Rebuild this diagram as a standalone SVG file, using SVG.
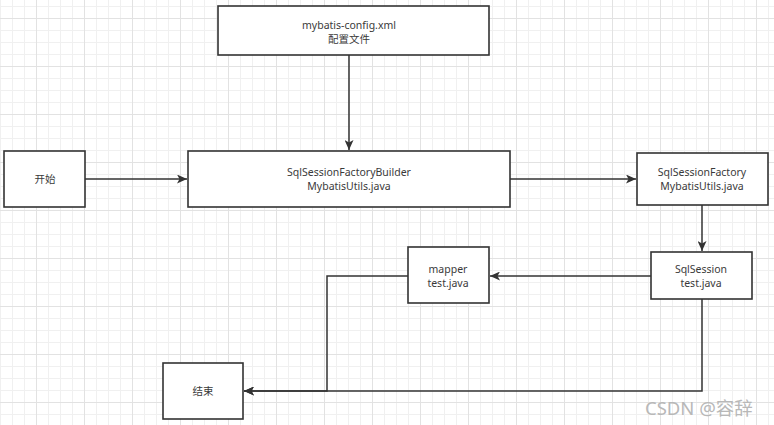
<svg xmlns="http://www.w3.org/2000/svg" width="774" height="425" viewBox="0 0 774 425">
<style>
.box{fill:#fff;stroke:#333;stroke-width:1.6}
.lbl{font-family:"Noto Sans","Noto Sans CJK SC",sans-serif;font-size:10.5px;fill:#3a3a3a;text-anchor:middle}
.edge{fill:none;stroke:#333;stroke-width:1.5}
.wm{font-family:"Noto Sans","Noto Sans CJK SC",sans-serif;font-size:18.5px;fill:#b8b8b8}
</style>
<defs>
<pattern id="minor" width="12" height="12" patternUnits="userSpaceOnUse" x="0" y="6">
<path d="M0,0.5 H12 M0.5,0 V12" fill="none" stroke="#f0f0f0" stroke-width="1"/>
</pattern>
<pattern id="major" width="48" height="48" patternUnits="userSpaceOnUse" x="36" y="18">
<path d="M0,0.5 H48 M0.5,0 V48" fill="none" stroke="#e2e2e2" stroke-width="1"/>
</pattern>
<marker id="arr" markerUnits="userSpaceOnUse" markerWidth="11" markerHeight="9" refX="10" refY="4.5" orient="auto">
<path d="M0,0 L10,4.5 L0,9 L2.5,4.5 z" fill="#333"/>
</marker>
</defs>
<rect width="774" height="425" fill="#fff"/>
<rect width="774" height="425" fill="url(#minor)"/>
<rect width="774" height="425" fill="url(#major)"/>

<g id="connectors">
<path class="edge" d="M349,55 V150" marker-end="url(#arr)"/>
<path class="edge" d="M85,179 H187" marker-end="url(#arr)"/>
<path class="edge" d="M510,179 H636" marker-end="url(#arr)"/>
<path class="edge" d="M702,205 V251" marker-end="url(#arr)"/>
<path class="edge" d="M651,276 H490" marker-end="url(#arr)"/>
<path class="edge" d="M408,276 H327 V391 H244" marker-end="url(#arr)"/>
<path class="edge" d="M702,299 V391 H244" marker-end="url(#arr)"/>
</g>

<g id="config">
<rect class="box" x="218" y="6" width="271" height="49"/>
<text class="lbl" x="349" y="28.5">mybatis-config.xml</text>
<text class="lbl" x="349" y="42.5">配置文件</text>
</g>
<g id="start">
<rect class="box" x="4" y="151" width="81" height="56"/>
<text class="lbl" x="45" y="183">开始</text>
</g>
<g id="builder">
<rect class="box" x="188" y="151" width="322" height="56"/>
<text class="lbl" x="349" y="176">SqlSessionFactoryBuilder</text>
<text class="lbl" x="349" y="190">MybatisUtils.java</text>
</g>
<g id="factory">
<rect class="box" x="637" y="153" width="131" height="52"/>
<text class="lbl" x="702" y="176">SqlSessionFactory</text>
<text class="lbl" x="702" y="190">MybatisUtils.java</text>
</g>
<g id="sqlsession">
<rect class="box" x="651" y="252" width="101" height="47"/>
<text class="lbl" x="701" y="272.5">SqlSession</text>
<text class="lbl" x="701" y="286.5">test.java</text>
</g>
<g id="mapper">
<rect class="box" x="408" y="247" width="81" height="56"/>
<text class="lbl" x="448" y="272.5">mapper</text>
<text class="lbl" x="448" y="286.5">test.java</text>
</g>
<g id="end">
<rect class="box" x="163" y="363" width="80" height="56"/>
<text class="lbl" x="203" y="395">结束</text>
</g>
<text class="wm" x="645" y="415">CSDN @容辞</text>
</svg>
